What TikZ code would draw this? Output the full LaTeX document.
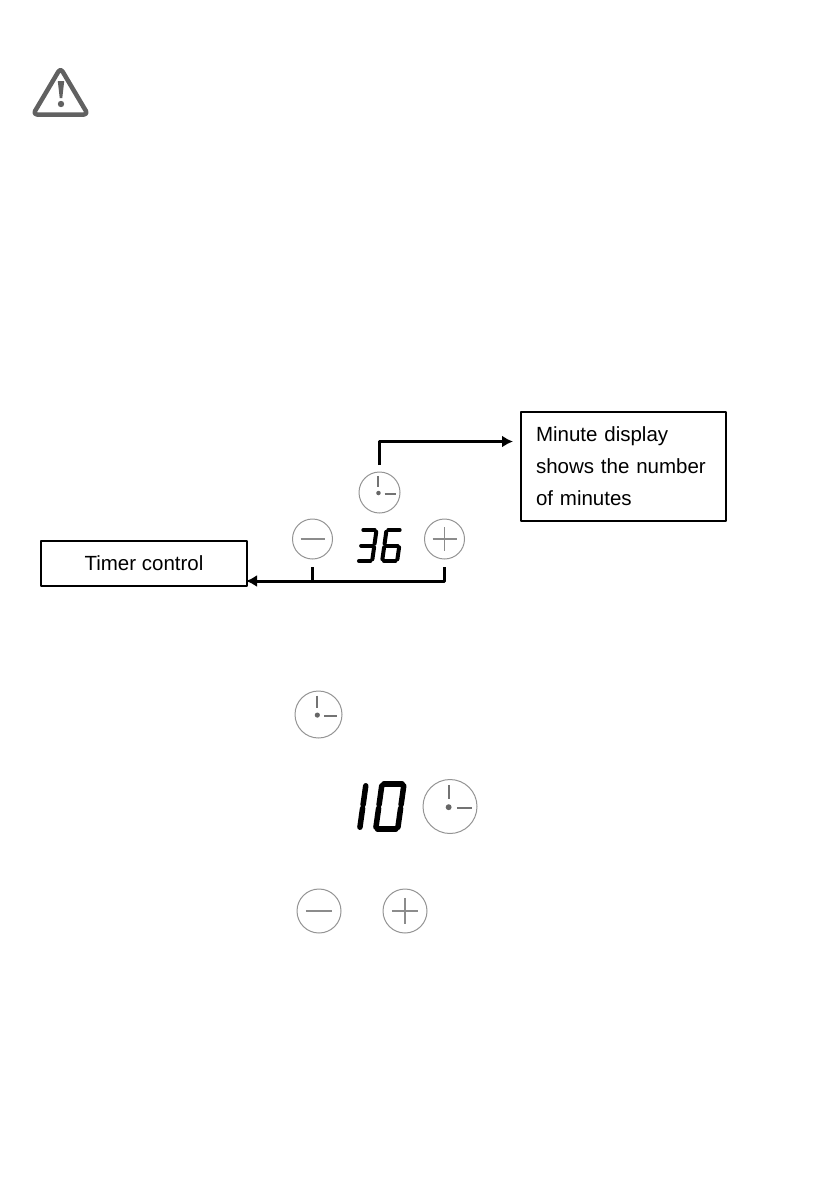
\documentclass[tikz,border=0pt]{standalone}
\usepackage{fontspec}
\setmainfont{Liberation Sans}
\usetikzlibrary{arrows.meta,calc}

\begin{document}
\begin{tikzpicture}[x=1pt,y=-1pt,>={Latex[length=11pt,width=12pt]},line join=round]
  \tikzset{
    label box/.style={draw=black,line width=1.5pt,inner sep=0pt,font=\fontsize{20.5}{32}\selectfont},
    button/.style={circle,draw=black!42,line width=1pt,inner sep=0pt,outer sep=0pt},
    glyph/.style={draw=black!45,line width=1.2pt},
    link/.style={line width=3pt,black},
    segment/.style={black,line cap=round,shorten <=1.8pt,shorten >=1.8pt}
  }

  \newcommand{\clockdraw}[4]{
    \node[button,minimum size=#4*2pt] (#1) at (#2,#3) {};
    \begin{scope}[shift={(#2,#3)},scale=#4/20]
      \draw[glyph,line width=2pt,draw=black!55] (-1,-16) -- (-1,-5.5);
      \fill[black!60] (-1,0.5) circle (2.2);
      \draw[glyph,line width=2pt,draw=black!55] (5,1) -- (16,1);
    \end{scope}
  }
  \newcommand{\minusdraw}[4]{
    \node[button,minimum size=#4*2pt] (#1) at (#2,#3) {};
    \begin{scope}[shift={(#2,#3)},scale=#4/20]
      \draw[glyph] (-12,0) -- (12,0);
    \end{scope}
  }
  \newcommand{\plusdraw}[4]{
    \node[button,minimum size=#4*2pt] (#1) at (#2,#3) {};
    \begin{scope}[shift={(#2,#3)},scale=#4/20]
      \draw[glyph] (-12,0) -- (12,0);
      \draw[glyph] (0,-12) -- (0,12);
    \end{scope}
  }
  % digit: left, top, width, height, stroke, list of segments
  \newcommand{\segdigit}[6]{
    \begin{scope}[shift={(#1,#2)},xslant=0.14]
      \coordinate (tl) at (0,0);
      \coordinate (tr) at (#3,0);
      \coordinate (ml) at (0,#4/2);
      \coordinate (mr) at (#3,#4/2);
      \coordinate (bl) at (0,#4);
      \coordinate (br) at (#3,#4);
      \foreach \from/\to in {#6}
        \draw[segment,line width=#5] (\from) -- (\to);
    \end{scope}
  }

  \useasboundingbox (0,0) rectangle (839,1191);

  % warning sign
  \draw[black!62,line width=4.5pt,rounded corners=4pt] (60.5,68) -- (88,114.5) -- (33,114.5) -- cycle;
  \fill[black!62] (57.8,81) -- (64.2,81) -- (62.3,98) -- (59.7,98) -- cycle;
  \fill[black!62] (61,104) circle (3.2);

  % first panel
  \node[label box,minimum width=205pt,minimum height=109pt,text width=175pt,inner xsep=15pt,align=left]
    (minuteBox) at (623.5,466.5) {Minute display\\shows the number\\of minutes};
  \node[label box,minimum width=206pt,minimum height=45pt] (timerBox) at (144,563.5) {Timer control};
  \clockdraw{clockA}{379.5}{492.5}{20.5}
  \minusdraw{minusA}{312.5}{539}{20}
  \plusdraw{plusA}{444.5}{539}{20}
  \segdigit{361.5}{530}{15}{31}{4pt}{tl/tr,tr/mr,mr/br,bl/br,ml/mr}
  \segdigit{386.5}{530}{15}{31}{4pt}{tl/tr,tl/ml,ml/bl,bl/br,mr/br,ml/mr}
  \coordinate (minuteTip) at (513,441.5);
  \coordinate (timerTip) at (246,581);
  \draw[link,->,shorten <=7pt] (clockA.north) |- (minuteTip);
  \draw[link,->,shorten <=8pt] (plusA.south) |- (timerTip);
  \draw[link,shorten <=8pt] (minusA.south) -- (minusA.south |- timerTip);

  % single buttons
  \clockdraw{clockB}{318.5}{714.5}{23.5}
  \segdigit{344}{784}{22}{45}{5.5pt}{tr/mr,mr/br}
  \segdigit{382}{784}{22}{45}{5.5pt}{tl/tr,tr/mr,mr/br,bl/br,ml/bl,tl/ml}
  \clockdraw{clockC}{450}{806.5}{27}
  \minusdraw{minusB}{319}{911}{22}
  \plusdraw{plusB}{405}{911}{22}
\end{tikzpicture}
\end{document}
